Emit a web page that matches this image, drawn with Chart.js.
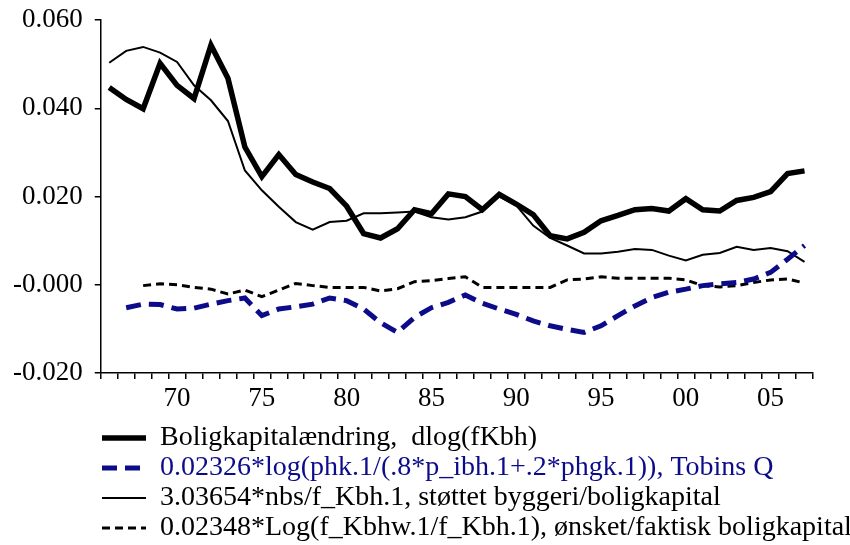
<!DOCTYPE html>
<html>
<head>
<meta charset="utf-8">
<script src="https://cdn.jsdelivr.net/npm/chart.js@4"></script>
<style>
  html, body { margin: 0; padding: 0; background: #fff; }
  #wrap { width: 850px; height: 545px; }
</style>
</head>
<body>
<div id="wrap"><canvas id="chart"></canvas></div>
<script>
// Years 1966-2007, shown as two-digit labels
const years = ['66','67','68','69','70','71','72','73','74','75','76','77','78','79',
  '80','81','82','83','84','85','86','87','88','89','90','91','92','93','94','95',
  '96','97','98','99','00','01','02','03','04','05','06','07'];

// Boligkapitalændring, dlog(fKbh)
const dlogKbh = [0.0447, 0.0420, 0.0399, 0.0502, 0.0452, 0.0422, 0.0543, 0.0468, 0.0312, 0.0245,
  0.0295, 0.0250, 0.0233, 0.0218, 0.0178, 0.0116, 0.0106, 0.0127, 0.0170, 0.0161,
  0.0206, 0.0200, 0.0170, 0.0205, 0.0183, 0.0159, 0.0111, 0.0104, 0.0119, 0.0145,
  0.0157, 0.0170, 0.0173, 0.0167, 0.0195, 0.0170, 0.0167, 0.0191, 0.0198, 0.0211,
  0.0252, 0.0258];

// Tobins Q term
const tobinsQ = [null, -0.0052, -0.0044, -0.0045, -0.0055, -0.0053, -0.0044, -0.0036, -0.0030, -0.0070,
  -0.0055, -0.0050, -0.0044, -0.0030, -0.0036, -0.0055, -0.0086, -0.0108, -0.0074, -0.0052,
  -0.0040, -0.0023, -0.0042, -0.0055, -0.0067, -0.0082, -0.0093, -0.0101, -0.0108, -0.0093,
  -0.0070, -0.0048, -0.0029, -0.0017, -0.0010, -0.0002, 0.0002, 0.0005, 0.0013, 0.0028,
  0.0058, 0.0089];

// støttet byggeri/boligkapital
const stoettet = [0.0503, 0.0530, 0.0539, 0.0526, 0.0505, 0.0452, 0.0418, 0.0371, 0.0259, 0.0214,
  0.0177, 0.0142, 0.0125, 0.0142, 0.0145, 0.0162, 0.0162, 0.0164, 0.0166, 0.0153,
  0.0148, 0.0153, 0.0166, 0.0200, 0.0180, 0.0134, 0.0106, 0.0089, 0.0071, 0.0071,
  0.0075, 0.0081, 0.0079, 0.0066, 0.0055, 0.0068, 0.0072, 0.0086, 0.0079, 0.0083,
  0.0076, 0.0052];

// ønsket/faktisk boligkapital
const oensket = [null, null, -0.0002, 0.0002, 0.0000, -0.0006, -0.0010, -0.0021, -0.0012, -0.0027,
  -0.0012, 0.0003, -0.0002, -0.0006, -0.0006, -0.0006, -0.0014, -0.0009, 0.0007, 0.0009,
  0.0014, 0.0018, -0.0006, -0.0006, -0.0006, -0.0006, -0.0006, 0.0011, 0.0013, 0.0018,
  0.0015, 0.0015, 0.0015, 0.0015, 0.0011, -0.0002, -0.0005, -0.0002, 0.0005, 0.0011,
  0.0013, 0.0004];

const seriesNames = [
  'Boligkapitalændring,  dlog(fKbh)',
  '0.02326*log(phk.1/(.8*p_ibh.1+.2*phgk.1)), Tobins Q',
  '3.03654*nbs/f_Kbh.1, støttet byggeri/boligkapital',
  '0.02348*Log(f_Kbhw.1/f_Kbh.1), ønsket/faktisk boligkapital'
];

const NAVY = '#0c0c8a';
const SERIF = '"Liberation Serif", "Times New Roman", serif';

// move the legend block so it starts under the plot area
const legendShift = {
  id: 'legendShift',
  afterLayout(chart) {
    const lg = chart.legend;
    lg.left = 100;
    lg.right = chart.width;
    lg.top += 7;
    lg.bottom += 7;
  }
};

new Chart(document.getElementById('chart'), {
  type: 'line',
  data: {
    labels: years,
    datasets: [
      { label: seriesNames[0], data: dlogKbh, borderColor: '#000', borderWidth: 5.5 },
      { label: seriesNames[1], data: tobinsQ, borderColor: NAVY, borderWidth: 5, borderDash: [15, 8] },
      { label: seriesNames[2], data: stoettet, borderColor: '#000', borderWidth: 2 },
      { label: seriesNames[3], data: oensket, borderColor: '#000', borderWidth: 3, borderDash: [8, 5] }
    ]
  },
  options: {
    responsive: true,
    maintainAspectRatio: false,
    animation: false,
    layout: { padding: { top: 0, right: 37, left: 1, bottom: 0 } },
    elements: {
      point: { radius: 0, hoverRadius: 0 },
      line: { tension: 0, fill: false }
    },
    plugins: {
      tooltip: { enabled: false },
      legend: {
        position: 'bottom',
        align: 'start',
        labels: {
          font: { family: SERIF, size: 28 },
          color: '#000',
          padding: 2,
          usePointStyle: true,
          pointStyle: 'line',
          pointStyleWidth: 44,
          boxHeight: 28,
          generateLabels(chart) {
            const items = Chart.defaults.plugins.legend.labels.generateLabels(chart);
            items.forEach(it => {
              const ds = chart.data.datasets[it.datasetIndex];
              it.fontColor = it.datasetIndex === 1 ? NAVY : '#000';
              it.strokeStyle = ds.borderColor;
              it.lineWidth = ds.borderWidth;
              it.lineDash = ds.borderDash || [];
            });
            return items;
          }
        }
      }
    },
    scales: {
      x: {
        offset: true,
        grid: { offset: true, drawOnChartArea: false, drawTicks: true, tickLength: 6, color: '#000', lineWidth: 1.5 },
        border: { display: true, color: '#000', width: 1.5 },
        afterFit(scale) {
          scale.height -= 3;
        },
        ticks: {
          autoSkip: false,
          maxRotation: 0,
          padding: 6,
          color: '#000',
          font: { family: SERIF, size: 27, lineHeight: 1 },
          callback(value, index) {
            const lab = years[index];
            return Number(lab) % 5 === 0 ? lab : '';
          }
        }
      },
      y: {
        min: -0.02,
        max: 0.06,
        grid: { drawOnChartArea: false, drawTicks: true, tickLength: 6, color: '#000', lineWidth: 1.5 },
        border: { display: true, color: '#000', width: 1.5 },
        afterFit(scale) {
          scale.paddingTop = 20;
        },
        ticks: {
          stepSize: 0.02,
          padding: 12,
          color: '#000',
          font: { family: SERIF, size: 27, lineHeight: 1 },
          callback(value) {
            if (Math.abs(value) < 1e-9) return '-0.000';
            return value.toFixed(3);
          }
        }
      }
    }
  },
  plugins: [legendShift]
});
</script>
</body>
</html>
